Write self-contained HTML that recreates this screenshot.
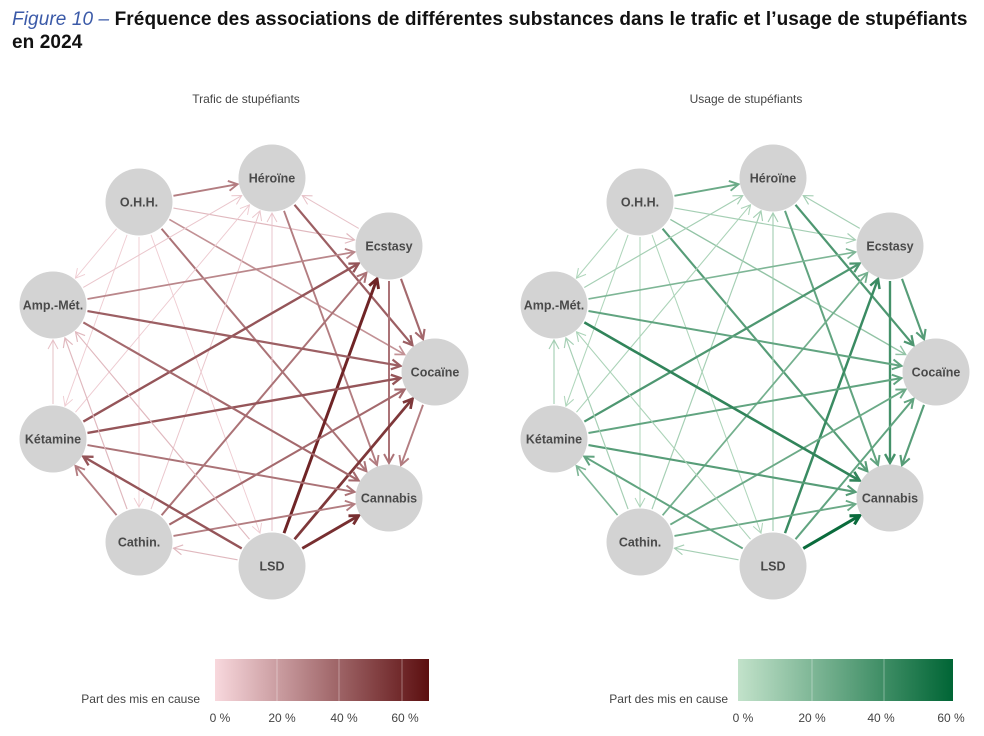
<!DOCTYPE html>
<html><head><meta charset="utf-8"><style>
body{margin:0;background:#fff;width:984px;height:736px;overflow:hidden;font-family:"Liberation Sans",sans-serif}
.t{position:absolute;left:12px;top:8px;font-size:19px;letter-spacing:0.1px;font-weight:bold;color:#111;line-height:23px;width:975px;white-space:nowrap}
.t i{color:#3b5aa8;font-weight:normal}
</style></head><body>
<div class="t"><i>Figure 10 –</i> Fréquence des associations de différentes substances dans le trafic et l’usage de stupéfiants<br>en 2024</div>
<svg id="s" width="984" height="736" style="position:absolute;left:0;top:0">
<defs>
<linearGradient id="gr"><stop offset="0" stop-color="#f8d8dd"/><stop offset="1" stop-color="#5c0f10"/></linearGradient>
<linearGradient id="gg"><stop offset="0" stop-color="#c2e2ca"/><stop offset="1" stop-color="#006535"/></linearGradient>
</defs>
<g font-size="12" fill="#444" font-family="Liberation Sans,sans-serif">
<text x="246" y="103" text-anchor="middle">Trafic de stupéfiants</text>
<text x="746" y="103" text-anchor="middle">Usage de stupéfiants</text>
<rect x="215" y="659" width="214" height="42" fill="url(#gr)"/>
<rect x="738" y="659" width="215" height="42" fill="url(#gg)"/>
<g stroke="#fff" stroke-width="0.6" stroke-opacity="0.6"><line x1="277" y1="659" x2="277" y2="701"/><line x1="339" y1="659" x2="339" y2="701"/><line x1="402" y1="659" x2="402" y2="701"/>
<line x1="812" y1="659" x2="812" y2="701"/><line x1="884" y1="659" x2="884" y2="701"/><line x1="955" y1="659" x2="955" y2="701"/></g>
<text x="200" y="703" text-anchor="end">Part des mis en cause</text>
<text x="728" y="703" text-anchor="end">Part des mis en cause</text>
<text x="220" y="722" text-anchor="middle">0 %</text><text x="282" y="722" text-anchor="middle">20 %</text><text x="344" y="722" text-anchor="middle">40 %</text><text x="405" y="722" text-anchor="middle">60 %</text>
<text x="743" y="722" text-anchor="middle">0 %</text><text x="812" y="722" text-anchor="middle">20 %</text><text x="881" y="722" text-anchor="middle">40 %</text><text x="951" y="722" text-anchor="middle">60 %</text>
</g>
<g id="L"></g><g id="R"></g>
</svg>
<script>
var N={her:[272,178,"Héroïne"],ecs:[389,246,"Ecstasy"],coc:[435,372,"Cocaïne"],can:[389,498,"Cannabis"],lsd:[272,566,"LSD"],cat:[139,542,"Cathin."],ket:[53,439,"Kétamine"],amp:[53,305,"Amp.-Mét."],ohh:[139,202,"O.H.H."]};
var E=[["ohh","her",.45,.45],["ohh","ecs",.15,.15],["ohh","coc",.35,.25],["ohh","can",.5,.55],["ohh","amp",.05,.1],["ohh","ket",.05,.1],["ohh","cat",.05,.1],["ohh","lsd",.05,.1],
["ecs","her",.1,.15],["amp","her",.08,.15],["ket","her",.06,.12],["cat","her",.08,.15],["lsd","her",.08,.15],
["her","coc",.6,.6],["her","can",.45,.5],["amp","ecs",.4,.35],["ket","ecs",.65,.6],["cat","ecs",.5,.4],["lsd","ecs",.9,.7],
["ecs","coc",.55,.55],["ecs","can",.5,.65],["amp","coc",.6,.5],["ket","coc",.65,.5],["cat","coc",.55,.45],["lsd","coc",.8,.5],
["coc","can",.45,.55],["amp","can",.55,.75],["ket","can",.5,.55],["cat","can",.45,.45],["lsd","can",.85,.95],
["ket","amp",.1,.15],["cat","amp",.15,.15],["lsd","amp",.15,.12],["lsd","ket",.65,.5],["cat","ket",.45,.35],["lsd","cat",.15,.15]];
function mix(a,b,t){return "rgb("+a.map((v,i)=>Math.round(v+(b[i]-v)*t)).join(",")+")"}
function draw(id,dx,wi,c0,c1){var s="";E.forEach(function(e){var a=N[e[0]],b=N[e[1]],w=e[wi];
var x1=a[0]+dx,y1=a[1],x2=b[0]+dx,y2=b[1],L=Math.hypot(x2-x1,y2-y1),ux=(x2-x1)/L,uy=(y2-y1)/L,r=35;
var sx=x1+ux*r,sy=y1+uy*r,ex=x2-ux*r,ey=y2-uy*r,col=mix(c0,c1,w),sw=(0.8+w*2.4).toFixed(2),h=9;
var px=-uy,py=ux;
s+='<line x1="'+sx+'" y1="'+sy+'" x2="'+ex+'" y2="'+ey+'" stroke="'+col+'" stroke-width="'+sw+'"/>';
s+='<polyline fill="none" stroke="'+col+'" stroke-width="'+sw+'" points="'+(ex-ux*h+px*h*.55)+','+(ey-uy*h+py*h*.55)+' '+ex+','+ey+' '+(ex-ux*h-px*h*.55)+','+(ey-uy*h-py*h*.55)+'"/>';});
for(var k in N){var n=N[k];s+='<circle cx="'+(n[0]+dx)+'" cy="'+n[1]+'" r="33.5" fill="#d3d3d3"/><text x="'+(n[0]+dx)+'" y="'+(n[1]+4.5)+'" text-anchor="middle" font-size="12.5" font-weight="bold" fill="#4a4a4a" font-family="Liberation Sans,sans-serif">'+n[2]+'</text>';}
document.getElementById(id).innerHTML=s;}
draw("L",0,2,[246,214,220],[96,16,18]);
draw("R",501,3,[194,226,202],[0,101,53]);
</script>
</body></html>
